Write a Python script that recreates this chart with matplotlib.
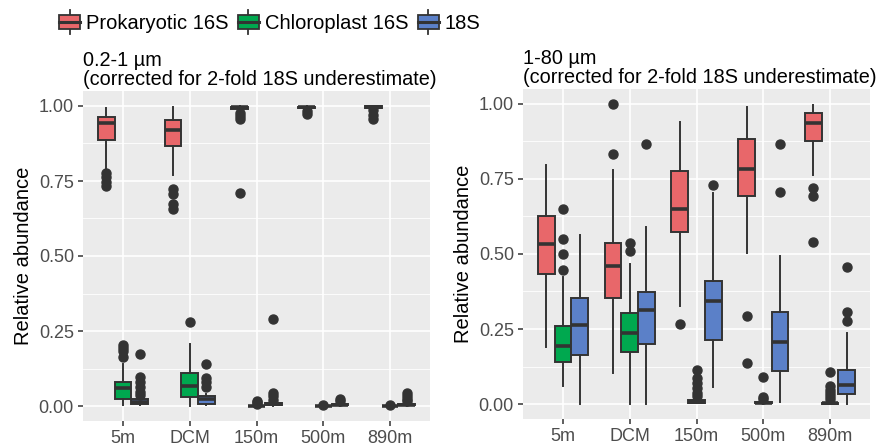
import matplotlib
matplotlib.use("Agg")
import matplotlib.pyplot as plt
from matplotlib.patches import Rectangle
from matplotlib.lines import Line2D
from matplotlib.legend_handler import HandlerBase

plt.rcParams['font.family'] = ['Liberation Sans', 'DejaVu Sans']

depths = ['5m', 'DCM', '150m', '500m', '890m']
groups = ['Prokaryotic 16S', 'Chloroplast 16S', '18S']
colors = ['#E8676A', '#00A84F', '#5B80C8']

# box stats: (whislo, q1, med, q3, whishi, fliers)
small_prok = [
    (0.786, 0.888, 0.943, 0.963, 0.994, [0.775, 0.762, 0.748, 0.733]),
    (0.769, 0.866, 0.921, 0.954, 0.997, [0.724, 0.708, 0.672, 0.658]),
    (0.985, 0.990, 0.995, 0.998, 1.000, [0.975, 0.965, 0.955, 0.710]),
    (0.988, 0.992, 0.996, 0.998, 1.000, [0.982, 0.974]),
    (0.990, 0.994, 0.997, 0.999, 1.000, [0.985, 0.970, 0.955]),
]
small_chl = [
    (0.002, 0.024, 0.061, 0.080, 0.141, [0.205, 0.195, 0.185, 0.165]),
    (0.000, 0.030, 0.066, 0.110, 0.208, [0.280]),
    (0.000, 0.000, 0.000, 0.001, 0.002, [0.008, 0.012, 0.018]),
    (0.000, 0.000, 0.000, 0.001, 0.002, [0.004]),
    (0.000, 0.000, 0.000, 0.001, 0.002, [0.003]),
]
small_euk = [
    (0.003, 0.008, 0.012, 0.024, 0.030, [0.174, 0.097, 0.080, 0.063, 0.047, 0.036]),
    (0.004, 0.008, 0.024, 0.032, 0.040, [0.141, 0.093, 0.080, 0.063]),
    (0.001, 0.003, 0.006, 0.010, 0.014, [0.020, 0.032, 0.045, 0.289]),
    (0.001, 0.003, 0.005, 0.008, 0.012, [0.018, 0.024]),
    (0.000, 0.002, 0.004, 0.008, 0.012, [0.016, 0.025, 0.035, 0.043]),
]

large_prok = [
    (0.191, 0.432, 0.533, 0.627, 0.797, []),
    (0.102, 0.352, 0.461, 0.536, 0.780, [1.000, 0.832]),
    (0.327, 0.574, 0.650, 0.778, 0.941, [0.266]),
    (0.502, 0.693, 0.782, 0.884, 0.989, [0.294, 0.136]),
    (0.763, 0.877, 0.936, 0.969, 0.997, [0.721, 0.693, 0.539]),
]
large_chl = [
    (0.060, 0.139, 0.194, 0.260, 0.422, [0.649, 0.549, 0.501, 0.447]),
    (0.000, 0.174, 0.236, 0.302, 0.467, [0.538, 0.510]),
    (0.002, 0.004, 0.008, 0.013, 0.018, [0.113, 0.086, 0.069, 0.052, 0.036, 0.026]),
    (0.001, 0.003, 0.004, 0.006, 0.009, [0.090, 0.024, 0.016]),
    (0.000, 0.001, 0.002, 0.003, 0.006, [0.108, 0.060, 0.047, 0.036, 0.026, 0.016]),
]
large_euk = [
    (0.000, 0.163, 0.262, 0.354, 0.562, []),
    (0.000, 0.199, 0.313, 0.373, 0.591, [0.866]),
    (0.058, 0.213, 0.344, 0.410, 0.702, [0.730]),
    (0.008, 0.111, 0.207, 0.306, 0.494, [0.866, 0.706]),
    (0.000, 0.032, 0.063, 0.113, 0.236, [0.458, 0.306, 0.278]),
]

panels = [
    ('0.2-1 µm\n(corrected for 2-fold 18S underestimate)', [small_prok, small_chl, small_euk]),
    ('1-80 µm\n(corrected for 2-fold 18S underestimate)', [large_prok, large_chl, large_euk]),
]

edge = '#333333'
fig = plt.figure(figsize=(8.8, 4.48), dpi=100)
boxes = [[83, 91, 347, 330], [523, 89, 347, 330]]  # left, top, width, height in px

for (title, series), (l, t, w, h) in zip(panels, boxes):
    ax = fig.add_axes([l / 880, (448 - t - h) / 448, w / 880, h / 448])
    ax.set_facecolor('#EBEBEB')
    for s in ax.spines.values():
        s.set_visible(False)
    ax.set_axisbelow(True)
    ax.set_xlim(0.4, 5.6)
    ax.set_ylim(-0.05, 1.05)
    ax.set_yticks([0, 0.25, 0.5, 0.75, 1.0])
    ax.set_yticklabels(['0.00', '0.25', '0.50', '0.75', '1.00'])
    ax.set_yticks([0.125, 0.375, 0.625, 0.875], minor=True)
    ax.set_xticks(range(1, 6))
    ax.set_xticklabels(depths)
    ax.grid(which='major', color='white', linewidth=1.2)
    ax.grid(which='minor', axis='y', color='white', linewidth=0.6)
    ax.tick_params(which='major', length=3.5, width=1.1, color=edge,
                   labelsize=13, labelcolor='#4D4D4D', pad=3)
    ax.tick_params(which='minor', length=0)
    ax.set_ylabel('Relative abundance', fontsize=14.5, labelpad=4)
    ax.set_title(title, loc='left', fontsize=14.3, pad=4, linespacing=1.0)

    for k, (data, col) in enumerate(zip(series, colors)):
        stats = []
        for lo, q1, med, q3, hi, fl in data:
            stats.append(dict(whislo=lo, q1=q1, med=med, q3=q3, whishi=hi, fliers=fl))
        pos = [i + 1 + (k - 1) * 0.25 for i in range(len(depths))]
        ax.bxp(stats, positions=pos, widths=0.25, patch_artist=True, showcaps=False,
               boxprops=dict(facecolor=col, edgecolor=edge, linewidth=1.4),
               whiskerprops=dict(color=edge, linewidth=1.4),
               medianprops=dict(color=edge, linewidth=2.6),
               flierprops=dict(marker='o', markerfacecolor=edge, markeredgecolor=edge,
                               markersize=6.5, linestyle='none'),
               manage_ticks=False)


class BoxKey(HandlerBase):
    def create_artists(self, legend, orig, xd, yd, width, height, fontsize, trans):
        x0, y0 = -xd, -yd
        cx = x0 + width / 2
        r = Rectangle((x0, y0 + height * 0.05), width, height * 0.9,
                      facecolor=orig.get_facecolor(), edgecolor=edge, linewidth=1.3,
                      transform=trans)
        m = Line2D([x0, x0 + width], [y0 + height / 2] * 2, color=edge, linewidth=2.2,
                   transform=trans)
        w1 = Line2D([cx, cx], [y0 - height * 0.3, y0 + height * 0.05], color=edge,
                    linewidth=1.3, transform=trans)
        w2 = Line2D([cx, cx], [y0 + height * 0.95, y0 + height * 1.3], color=edge,
                    linewidth=1.3, transform=trans)
        return [w1, w2, r, m]


handles = [Rectangle((0, 0), 1, 1, facecolor=c) for c in colors]
fig.legend(handles, groups, handler_map={Rectangle: BoxKey()}, ncol=3,
           loc='upper left', bbox_to_anchor=(45 / 880, 1.0), frameon=False,
           fontsize=14.5, handlelength=1.05, handleheight=0.8, handletextpad=0.3,
           columnspacing=0.45, borderaxespad=0.3)

fig.savefig('out.png', dpi=100)
